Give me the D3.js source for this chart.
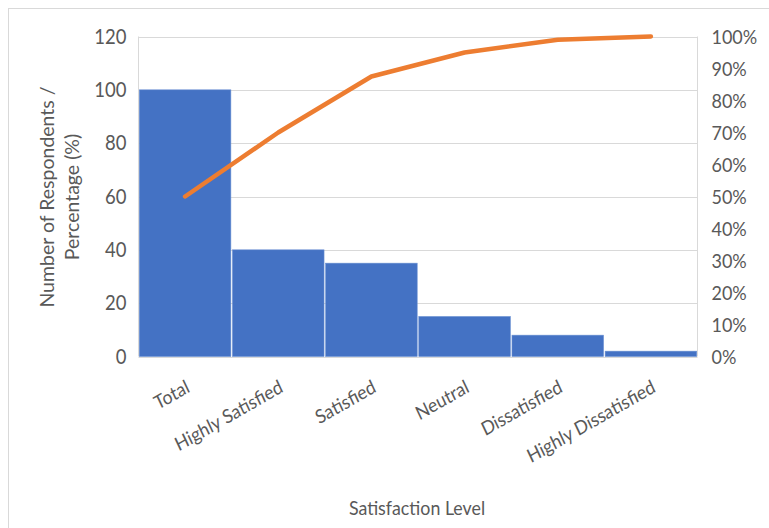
<!DOCTYPE html>
<html><head><meta charset="utf-8">
<script src="https://cdn.jsdelivr.net/npm/d3@7"></script>
<style>
html,body{margin:0;padding:0;background:#fff;}
svg{display:block;}
text{font-family:Lato,"Open Sans",sans-serif;fill:#595959;}
</style></head>
<body>
<svg id="chart" width="769" height="528"></svg>
<script>
const categories = ["Total","Highly Satisfied","Satisfied","Neutral","Dissatisfied","Highly Dissatisfied"];
const respondents = [100, 40, 35, 15, 8, 2];
const cumulativePct = [0.50, 0.70, 0.875, 0.95, 0.99, 1.00];
const leftTicks = [0, 20, 40, 60, 80, 100, 120];
const rightTicks = [0, 0.1, 0.2, 0.3, 0.4, 0.5, 0.6, 0.7, 0.8, 0.9, 1.0];
const xTitle = "Satisfaction Level";
const yTitleLines = ["Number of Respondents /", "Percentage (%)"];

const svg = d3.select("#chart");
const plot = {left:138.5, right:697.5, top:36.5, bottom:356.5};
const sy = 1.1; // vertical glyph stretch

// outer chart border
svg.append("rect").attr("x",8.5).attr("y",8.5).attr("width",800).attr("height",600)
  .attr("fill","none").attr("stroke","#D9D9D9").attr("stroke-width",1);

const x = d3.scaleBand().domain(categories).range([plot.left, plot.right]).padding(0);
const yL = d3.scaleLinear().domain([0,120]).range([plot.bottom, plot.top]);
const yR = d3.scaleLinear().domain([0,1]).range([plot.bottom, plot.top]);

// gridlines
svg.append("g").selectAll("line").data(leftTicks).join("line")
  .attr("x1",plot.left).attr("x2",plot.right)
  .attr("y1",d=>Math.round(yL(d))+0.5).attr("y2",d=>Math.round(yL(d))+0.5)
  .attr("stroke","#D9D9D9").attr("stroke-width",1);
svg.append("line").attr("x1",plot.left).attr("x2",plot.left).attr("y1",plot.top).attr("y2",plot.bottom).attr("stroke","#D9D9D9");
svg.append("line").attr("x1",plot.right).attr("x2",plot.right).attr("y1",plot.top).attr("y2",plot.bottom).attr("stroke","#D9D9D9");

// bars
svg.append("g").selectAll("rect").data(categories).join("rect")
  .attr("x",d=>x(d)+0.8)
  .attr("width",x.bandwidth()-1.6)
  .attr("y",(d,i)=>yL(respondents[i]))
  .attr("height",(d,i)=>yL(0)-yL(respondents[i]))
  .attr("fill","#4472C4").attr("stroke","#6A8FD3").attr("stroke-width",0.6);

// cumulative line
const line = d3.line().x((d,i)=>x(categories[i])+x.bandwidth()/2).y(d=>yR(d));
svg.append("path").datum(cumulativePct).attr("d",line)
  .attr("fill","none").attr("stroke","#ED7D31").attr("stroke-width",4.5)
  .attr("stroke-linejoin","round").attr("stroke-linecap","round");

// left axis
const axL = d3.axisLeft(yL).tickValues(leftTicks).tickSize(0).tickPadding(12);
const gL = svg.append("g").attr("transform",`translate(${plot.left},0)`).call(axL);
gL.select(".domain").remove();
gL.selectAll("text").style("font-size","18.5px").attr("fill","#595959").attr("dy","0.33em")
  .attr("transform",`scale(1,${sy})`);

// right axis
const axR = d3.axisRight(yR).tickValues(rightTicks).tickSize(0).tickPadding(14).tickFormat(d3.format(".0%"));
const gR = svg.append("g").attr("transform",`translate(${plot.right},0)`).call(axR);
gR.select(".domain").remove();
gR.selectAll("text").style("font-size","18px").attr("fill","#595959").attr("dy","0.33em")
  .attr("transform",`scale(1,${sy})`);

// category labels
svg.append("g").selectAll("text").data(categories).join("text")
  .attr("transform",d=>`translate(${x(d)+x.bandwidth()/2},${379}) scale(1,${sy}) rotate(-27.5)`)
  .attr("text-anchor","end").attr("dy","0.72em")
  .style("font-size","17.5px").text(d=>d);

// x title
svg.append("text").attr("transform",`translate(417,515) scale(1,${sy})`).attr("text-anchor","middle")
  .style("font-size","17.8px").text(xTitle);

// y title
const yt = svg.append("text").attr("transform","translate(0,197) rotate(-90)").attr("text-anchor","middle")
  .style("font-size","19.5px");
yt.append("tspan").attr("x",0).attr("y",54).text(yTitleLines[0]);
yt.append("tspan").attr("x",0).attr("y",79).text(yTitleLines[1]);
</script>
</body></html>
